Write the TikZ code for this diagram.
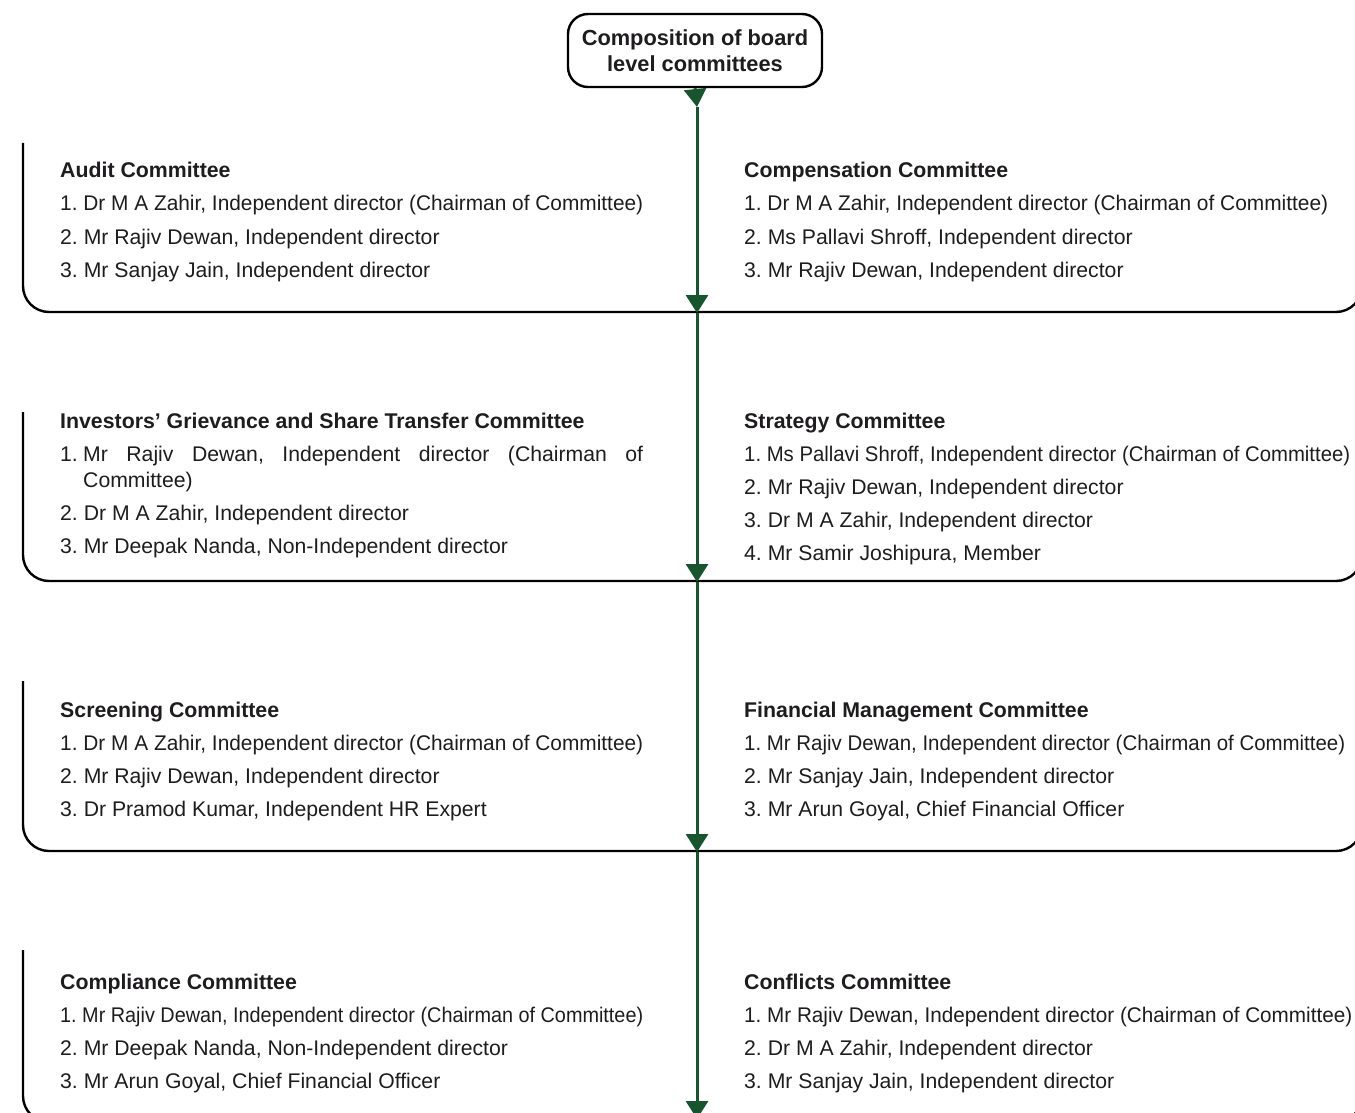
\documentclass[tikz,border=0pt]{standalone}
\usepackage{fontspec}
\setmainfont{Liberation Sans}
\usetikzlibrary{arrows.meta}
\definecolor{flowgreen}{RGB}{24,84,46}
\definecolor{txt}{RGB}{30,28,30}
\newcommand{\fitw}[2]{\resizebox{#1}{\height}{#2}}
\begin{document}
\frenchspacing
\begin{tikzpicture}[x=1pt,y=-1pt,
  bracket/.style={line width=2.4pt, rounded corners=26pt, black},
  flow/.style={line width=3pt, flowgreen, -{Triangle[width=22pt,length=18pt]}},
  titlebox/.style={draw, line width=2.4pt, rounded corners=20pt, minimum width=254pt, minimum height=73pt, align=center, inner sep=0pt, font=\fontsize{21.8}{26}\selectfont\bfseries, text=txt},
  head/.style={anchor=base west, inner sep=0pt, font=\fontsize{21.3}{24}\selectfont\bfseries, text=txt},
  entry/.style={anchor=base west, inner sep=0pt, font=\fontsize{21.2}{24}\selectfont, text=txt}]
\useasboundingbox (0,0) rectangle (1355,1113);
\clip (0,0) rectangle (1355,1113);
% title
\node[titlebox] (title) at (695,50.5) {Composition of board\\level committees};
% brackets
\draw[bracket] (23,143) -- (23,312) -- (1362,312) -- (1362,200);
\draw[bracket] (23,412) -- (23,581) -- (1362,581) -- (1362,470);
\draw[bracket] (23,681) -- (23,851) -- (1362,851) -- (1362,740);
\draw[bracket] (23,950) -- (23,1122) -- (1362,1122) -- (1362,1000);
% flow coordinates
\coordinate (a0) at (697,107);
\coordinate (b1) at (697,313);
\coordinate (b2) at (697,582);
\coordinate (b3) at (697,852);
\coordinate (b4) at (697,1119);
\draw[flow] (title.south) -- (a0);
\draw[flow] (a0) -- (b1);
\draw[flow] (b1) -- (b2);
\draw[flow] (b2) -- (b3);
\draw[flow] (b3) -- (b4);
% Section 1
\node[head] (h1l) at (60,178) {Audit Committee};
\node[entry] (l11) at (60,211) {\fitw{583pt}{1. Dr M A Zahir, Independent director (Chairman of Committee)}};
\node[entry] (l12) at (60,244) {2. Mr Rajiv Dewan, Independent director};
\node[entry] (l13) at (60,277) {3. Mr Sanjay Jain, Independent director};
\node[head] (h1r) at (744,178) {Compensation Committee};
\node[entry] (r11) at (744,211) {\fitw{584pt}{1. Dr M A Zahir, Independent director (Chairman of Committee)}};
\node[entry] (r12) at (744,244) {2. Ms Pallavi Shroff, Independent director};
\node[entry] (r13) at (744,277) {3. Mr Rajiv Dewan, Independent director};
% Section 2
\node[head] (h2l) at (60,428) {Investors’ Grievance and Share Transfer Committee};
\node[entry] (l21) at (60,461) {1.};
\node[entry] (l21b) at (83,461) {\makebox[560pt][s]{Mr Rajiv Dewan, Independent director (Chairman of}};
\node[entry] (l21c) at (83,487) {Committee)};
\node[entry] (l22) at (60,520) {2. Dr M A Zahir, Independent director};
\node[entry] (l23) at (60,553) {3. Mr Deepak Nanda, Non-Independent director};
\node[head] (h2r) at (744,428) {Strategy Committee};
\node[entry] (r21) at (744,461) {\fitw{606pt}{1. Ms Pallavi Shroff, Independent director (Chairman of Committee)}};
\node[entry] (r22) at (744,494) {2. Mr Rajiv Dewan, Independent director};
\node[entry] (r23) at (744,527) {3. Dr M A Zahir, Independent director};
\node[entry] (r24) at (744,560) {4. Mr Samir Joshipura, Member};
% Section 3
\node[head] (h3l) at (60,717) {Screening Committee};
\node[entry] (l31) at (60,750) {\fitw{583pt}{1. Dr M A Zahir, Independent director (Chairman of Committee)}};
\node[entry] (l32) at (60,783) {2. Mr Rajiv Dewan, Independent director};
\node[entry] (l33) at (60,816) {3. Dr Pramod Kumar, Independent HR Expert};
\node[head] (h3r) at (744,717) {Financial Management Committee};
\node[entry] (r31) at (744,750) {\fitw{601pt}{1. Mr Rajiv Dewan, Independent director (Chairman of Committee)}};
\node[entry] (r32) at (744,783) {2. Mr Sanjay Jain, Independent director};
\node[entry] (r33) at (744,816) {3. Mr Arun Goyal, Chief Financial Officer};
% Section 4
\node[head] (h4l) at (60,989) {Compliance Committee};
\node[entry] (l41) at (60,1022) {\fitw{583pt}{1. Mr Rajiv Dewan, Independent director (Chairman of Committee)}};
\node[entry] (l42) at (60,1055) {2. Mr Deepak Nanda, Non-Independent director};
\node[entry] (l43) at (60,1088) {3. Mr Arun Goyal, Chief Financial Officer};
\node[head] (h4r) at (744,989) {Conflicts Committee};
\node[entry] (r41) at (744,1022) {\fitw{608pt}{1. Mr Rajiv Dewan, Independent director (Chairman of Committee)}};
\node[entry] (r42) at (744,1055) {2. Dr M A Zahir, Independent director};
\node[entry] (r43) at (744,1088) {3. Mr Sanjay Jain, Independent director};
\end{tikzpicture}
\end{document}
